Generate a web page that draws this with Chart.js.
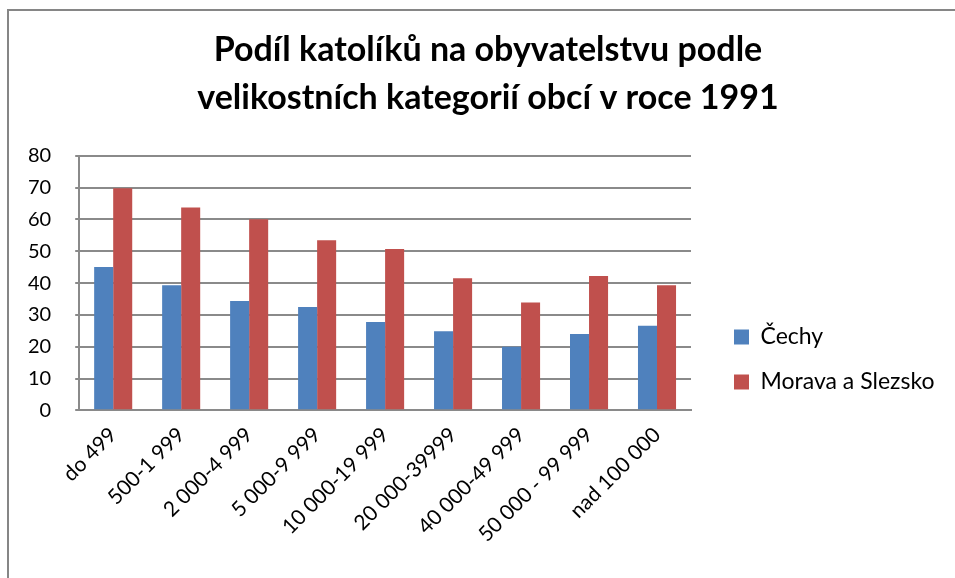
<!DOCTYPE html>
<html lang="cs">
<head>
    <meta charset="UTF-8">
    <title>Podíl katolíků na obyvatelstvu</title>
    <script src="https://cdn.jsdelivr.net/npm/chart.js"></script>
    <style>
        html, body { margin: 0; padding: 0; background: #fff; overflow: hidden; }
        #wrap { position: relative; width: 955px; height: 578px; }
        #frame {
            position: absolute; left: 7px; top: 9px; width: 960px; height: 580px;
            border-top: 2px solid #868686; border-left: 2px solid #868686;
        }
        canvas { position: absolute; left: 0; top: 0; }
    </style>
</head>
<body>
    <div id="wrap">
        <div id="frame"></div>
        <canvas id="katolici" width="955" height="578"></canvas>
    </div>

    <script>
        // kategorie obcí podle velikosti
        const kategorie = ['do 499', '500-1 999', '2 000-4 999', '5 000-9 999', '10 000-19 999',
            '20 000-39999', '40 000-49 999', '50 000 - 99 999', 'nad 100 000'];
        // podíl katolíků v %
        const cechy = [45.1, 39.3, 34.4, 32.5, 27.8, 24.9, 20.0, 24.0, 26.6];
        const moravaSlezsko = [69.8, 63.8, 60.1, 53.5, 50.7, 41.5, 33.9, 42.2, 39.3];
        const osaY = { min: 0, max: 80, krok: 10 };

        const pismo = 'Lato, "Liberation Sans", sans-serif';
        const sedaMrizka = '#8a8a8a';

        // dorovnani polohy legendy a nadpisu podle predlohy
        const posunBloku = {
            id: 'posunBloku',
            afterLayout(chart) {
                const lg = chart.legend;
                lg.left += 21; lg.right += 21;
                lg.top += 84; lg.bottom += 84;
                const tb = chart.titleBlock;
                tb.left += 26; tb.right += 26;
            }
        };

        const ctx = document.getElementById('katolici').getContext('2d');
        new Chart(ctx, {
            type: 'bar',
            data: {
                labels: kategorie,
                datasets: [
                    {
                        label: 'Čechy',
                        data: cechy,
                        backgroundColor: '#4F81BD',
                        categoryPercentage: 0.56,
                        barPercentage: 1.0
                    },
                    {
                        label: 'Morava a Slezsko',
                        data: moravaSlezsko,
                        backgroundColor: '#C0504D',
                        categoryPercentage: 0.56,
                        barPercentage: 1.0
                    }
                ]
            },
            plugins: [posunBloku],
            options: {
                responsive: false,
                animation: false,
                layout: { padding: { left: 4, right: 35, top: 0, bottom: 27 } },
                plugins: {
                    title: {
                        display: true,
                        text: ['Podíl katolíků na obyvatelstvu podle', 'velikostních kategorií obcí v roce 1991'],
                        color: '#000',
                        font: { family: pismo, size: 34, weight: 'bold', lineHeight: 1.41 },
                        padding: { top: 26, bottom: 34 }
                    },
                    legend: {
                        position: 'right',
                        align: 'center',
                        labels: {
                            color: '#000',
                            font: { family: pismo, size: 23 },
                            boxWidth: 15,
                            boxHeight: 15,
                            padding: 22
                        }
                    },
                    tooltip: { enabled: false }
                },
                scales: {
                    x: {
                        grid: { display: false },
                        border: { display: true, color: sedaMrizka, width: 2 },
                        ticks: {
                            color: '#000',
                            font: { family: pismo, size: 21 },
                            minRotation: 45,
                            maxRotation: 45,
                            padding: 4
                        }
                    },
                    y: {
                        min: osaY.min,
                        max: osaY.max,
                        grid: { color: sedaMrizka, lineWidth: 2, tickLength: 4 },
                        border: { display: true, color: sedaMrizka, width: 2 },
                        ticks: {
                            stepSize: osaY.krok,
                            color: '#000',
                            font: { family: pismo, size: 20 },
                            padding: 24
                        }
                    }
                }
            }
        });
    </script>
</body>
</html>
